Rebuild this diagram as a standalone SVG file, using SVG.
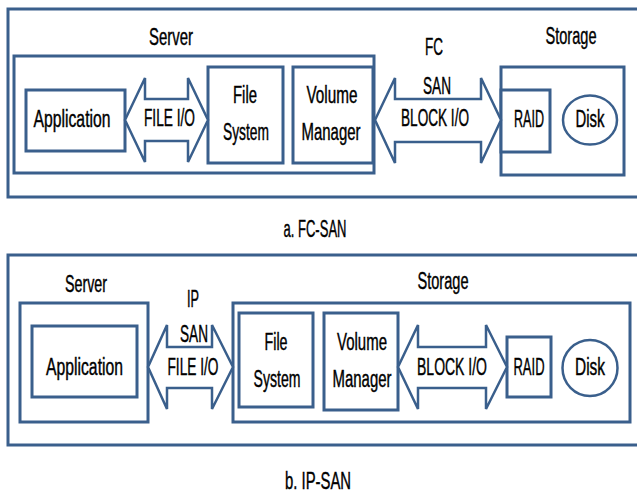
<svg xmlns="http://www.w3.org/2000/svg" width="637" height="496" viewBox="0 0 637 496">
<style>
.box{fill:#fff;stroke:#3A5F8C;stroke-width:3}
.frame{fill:#fff;stroke:#3A5F8C;stroke-width:3}
.arr{fill:#fff;stroke:#3A5F8C;stroke-width:2.5;stroke-linejoin:miter}
.disk{fill:#fff;stroke:#3A5F8C;stroke-width:2.5}
text{font-family:"Liberation Sans",Arial,sans-serif;font-size:16.5px;fill:#000;stroke:#000;stroke-width:0.3;text-anchor:middle}
</style>
<rect width="637" height="496" fill="#fff"/>

<!-- a. FC-SAN -->
<g id="fc-frame"><rect class="frame" x="8" y="9" width="640" height="188"/></g>
<g id="fc-server">
  <rect class="box" x="14" y="56" width="360" height="117"/>
  <text transform="translate(171,45) scale(1,1.45)" textLength="44" lengthAdjust="spacingAndGlyphs">Server</text>
</g>
<g id="fc-application">
  <rect class="box" x="26" y="90" width="99" height="61"/>
  <text transform="translate(72,127) scale(1,1.45)" textLength="77" lengthAdjust="spacingAndGlyphs">Application</text>
</g>
<g id="fc-filesystem">
  <rect class="box" x="208" y="67" width="75" height="96"/>
  <text transform="translate(245,103) scale(1,1.45)" textLength="24" lengthAdjust="spacingAndGlyphs">File</text>
  <text transform="translate(246,140) scale(1,1.45)" textLength="46" lengthAdjust="spacingAndGlyphs">System</text>
</g>
<g id="fc-volume">
  <rect class="box" x="293" y="67" width="80" height="96"/>
  <text transform="translate(332,103) scale(1,1.45)" textLength="51" lengthAdjust="spacingAndGlyphs">Volume</text>
  <text transform="translate(331,140) scale(1,1.45)" textLength="59" lengthAdjust="spacingAndGlyphs">Manager</text>
</g>
<g id="fc-storage">
  <rect class="box" x="501" y="67" width="123" height="108"/>
  <text transform="translate(571,44) scale(1,1.45)" textLength="51" lengthAdjust="spacingAndGlyphs">Storage</text>
</g>
<g id="fc-raid">
  <rect class="box" x="501" y="90" width="49" height="62"/>
  <text transform="translate(529,127) scale(1,1.45)" textLength="30" lengthAdjust="spacingAndGlyphs">RAID</text>
</g>
<g id="fc-disk">
  <ellipse class="disk" cx="590" cy="120" rx="27" ry="24.5"/>
  <text transform="translate(590,127) scale(1,1.45)" textLength="29" lengthAdjust="spacingAndGlyphs">Disk</text>
</g>
<text transform="translate(315,237) scale(1,1.45)" textLength="63" lengthAdjust="spacingAndGlyphs">a. FC-SAN</text>

<!-- b. IP-SAN -->
<g id="ip-frame"><rect class="frame" x="8" y="255" width="640" height="190"/></g>
<g id="ip-server">
  <rect class="box" x="20" y="303" width="128" height="119"/>
  <text transform="translate(86,292) scale(1,1.45)" textLength="42" lengthAdjust="spacingAndGlyphs">Server</text>
</g>
<g id="ip-application">
  <rect class="box" x="32" y="326" width="105" height="71"/>
  <text transform="translate(84.5,375) scale(1,1.45)" textLength="77" lengthAdjust="spacingAndGlyphs">Application</text>
</g>
<g id="ip-storage">
  <rect class="box" x="233" y="303" width="397" height="119"/>
  <text transform="translate(443,289) scale(1,1.45)" textLength="51" lengthAdjust="spacingAndGlyphs">Storage</text>
</g>
<g id="ip-filesystem">
  <rect class="box" x="239" y="313" width="74" height="94"/>
  <text transform="translate(276,350) scale(1,1.45)" textLength="23" lengthAdjust="spacingAndGlyphs">File</text>
  <text transform="translate(277,387) scale(1,1.45)" textLength="47" lengthAdjust="spacingAndGlyphs">System</text>
</g>
<g id="ip-volume">
  <rect class="box" x="324" y="313" width="74" height="97"/>
  <text transform="translate(362,350) scale(1,1.45)" textLength="50" lengthAdjust="spacingAndGlyphs">Volume</text>
  <text transform="translate(362,387) scale(1,1.45)" textLength="59" lengthAdjust="spacingAndGlyphs">Manager</text>
</g>
<g id="ip-raid">
  <rect class="box" x="507" y="337" width="44" height="60"/>
  <text transform="translate(529,375) scale(1,1.45)" textLength="31" lengthAdjust="spacingAndGlyphs">RAID</text>
</g>
<g id="ip-disk">
  <ellipse class="disk" cx="590" cy="368" rx="27.5" ry="28"/>
  <text transform="translate(590,375) scale(1,1.45)" textLength="30" lengthAdjust="spacingAndGlyphs">Disk</text>
</g>
<text transform="translate(318,489) scale(1,1.45)" textLength="66" lengthAdjust="spacingAndGlyphs">b. IP-SAN</text>

<!-- connectors -->
<g id="connectors">
  <polygon class="arr" points="125,120 145,78 145,99 188,99 188,78 208,120 188,162 188,141 145,141 145,162"/>
  <polygon class="arr" points="375,120 395,78 395,99 481,99 481,78 501,120 481,163 481,142 395,142 395,163"/>
  <polygon class="arr" points="148,367 167,325 167,347 212,347 212,325 233,367 212,409 212,388 167,388 167,409"/>
  <polygon class="arr" points="398,367 418,325 418,347 486,347 486,325 507,367 486,409 486,388 418,388 418,409"/>
  <text transform="translate(169.5,126) scale(1,1.45)" textLength="51" lengthAdjust="spacingAndGlyphs">FILE I/O</text>
  <text transform="translate(434,55) scale(1,1.45)" textLength="18" lengthAdjust="spacingAndGlyphs">FC</text>
  <text transform="translate(437,94) scale(1,1.45)" textLength="28" lengthAdjust="spacingAndGlyphs">SAN</text>
  <text transform="translate(435,126) scale(1,1.45)" textLength="68" lengthAdjust="spacingAndGlyphs">BLOCK I/O</text>
  <text transform="translate(193,307) scale(1,1.45)" textLength="12" lengthAdjust="spacingAndGlyphs">IP</text>
  <text transform="translate(194,342) scale(1,1.45)" textLength="28" lengthAdjust="spacingAndGlyphs">SAN</text>
  <text transform="translate(193,375) scale(1,1.45)" textLength="51" lengthAdjust="spacingAndGlyphs">FILE I/O</text>
  <text transform="translate(452,375) scale(1,1.45)" textLength="70" lengthAdjust="spacingAndGlyphs">BLOCK I/O</text>
</g>
</svg>
